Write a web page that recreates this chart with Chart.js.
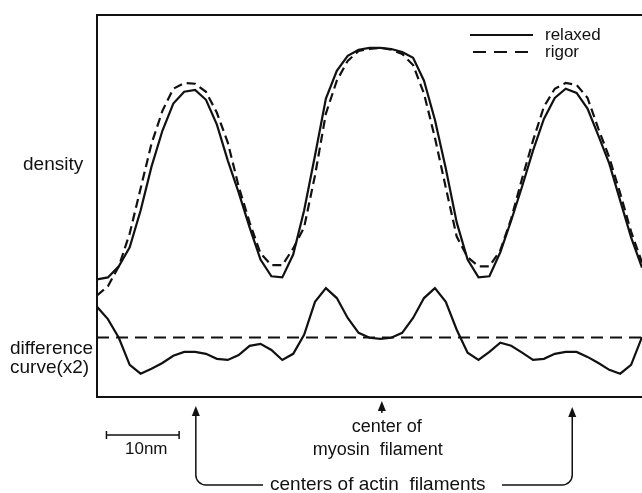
<!DOCTYPE html>
<html>
<head>
<meta charset="utf-8">
<script src="https://cdn.jsdelivr.net/npm/chart.js@4.4.1/dist/chart.umd.min.js"></script>
<style>
  html, body { margin: 0; padding: 0; background: #fff; overflow: hidden; }
  #wrap { width: 642px; height: 493px; }
</style>
</head>
<body>
<div id="wrap"><canvas id="profile" width="642" height="493"></canvas></div>
<script>
// Sample positions across the lattice (nm), one every 1.5 nm
const positionNm = [0, 1.5, 3, 4.5, 6, 7.5, 9, 10.5, 12, 13.5, 15, 16.5, 18, 19.5, 21, 22.5, 24, 25.5, 27, 28.5,
    30, 31.5, 33, 34.5, 36, 37.5, 39, 40.5, 42, 43.5, 45, 46.5, 48, 49.5, 51, 52.5, 54, 55.5, 57, 58.5,
    60, 61.5, 63, 64.5, 66, 67.5, 69, 70.5, 72, 73.5, 75];

// Density profiles (arbitrary units, 0-100)
const relaxed = [30.8, 31.3, 34.2, 39.2, 48.8, 60.3, 69.7, 76.8, 79.9, 80.4, 77.8, 71.3, 61.9, 53.5, 44.4, 36.0, 31.6,
    31.3, 37.3, 48.8, 63.2, 78.1, 85.4, 89.3, 90.9, 91.4, 91.4, 91.1, 90.3, 88.8, 82.8, 72.6, 59.8, 45.7, 36.0,
    31.3, 31.6, 37.9, 46.2, 55.1, 64.5, 72.8, 78.3, 80.7, 79.6, 75.5, 68.4, 61.1, 51.4, 41.8, 33.9];
const rigor = [26.6, 29.0, 34.2, 42.8, 54.6, 66.3, 74.9, 80.7, 82.2, 82.0, 79.9, 74.4, 66.6, 55.1, 45.7, 37.6, 34.5,
    34.5, 38.9, 44.4, 58.0, 74.2, 82.8, 88.0, 90.6, 91.1, 91.4, 90.9, 89.8, 86.9, 79.4, 67.9, 54.8, 42.0, 36.6,
    34.2, 34.2, 38.4, 46.7, 57.2, 67.1, 76.0, 80.7, 82.2, 81.7, 78.3, 70.2, 62.7, 53.3, 43.3, 35.2];

// Difference curve (x2), same units, around its own zero line
const difference = [8.0, 4.8, -0.1, -7.2, -9.5, -8.2, -6.7, -4.8, -3.8, -3.8, -4.3, -5.6, -5.9, -4.6, -2.2, -1.7, -3.3,
    -5.9, -4.3, 0.7, 9.3, 12.9, 10.3, 5.1, 1.2, -0.1, -0.4, -0.1, 1.2, 5.1, 10.3, 12.9, 9.3, 2.0, -4.0,
    -5.9, -3.8, -1.4, -2.2, -4.0, -5.9, -5.6, -4.3, -3.8, -3.8, -5.1, -6.7, -8.5, -9.5, -7.2, 0.1];

// Landmarks (nm)
const myosinCenterNm = 39.2;
const actinCentersNm = [13.6, 65.4];
const scaleBarNm = [1.3, 11.3];

const ink = '#111';
const font = '"Liberation Sans", Arial, sans-serif';

function toPoints(values) {
    return values.map((v, i) => ({ x: positionNm[i], y: v }));
}

function arrowHeadUp(ctx, x, y) {
    ctx.beginPath();
    ctx.moveTo(x, y);
    ctx.lineTo(x - 4, y + 10);
    ctx.lineTo(x + 4, y + 10);
    ctx.closePath();
    ctx.fill();
}

/* ------------------ FRAME, LABELS, ARROWS ------------------ */
const figureNotes = {
    id: 'figureNotes',
    afterDraw(chart) {
        const { ctx, chartArea: area, scales } = chart;
        const xs = scales.x;
        ctx.save();
        ctx.strokeStyle = ink;
        ctx.fillStyle = ink;

        // frame, right side runs off the page
        ctx.lineWidth = 2;
        ctx.beginPath();
        ctx.moveTo(area.right + 4, area.top);
        ctx.lineTo(area.left, area.top);
        ctx.lineTo(area.left, area.bottom);
        ctx.lineTo(area.right + 4, area.bottom);
        ctx.stroke();

        // left labels
        ctx.font = `19px ${font}`;
        ctx.textBaseline = 'middle';
        ctx.textAlign = 'left';
        ctx.fillText('density', 23, 165);
        ctx.fillText('difference', 10, 349);
        ctx.fillText('curve(x2)', 10, 368);

        // legend
        ctx.lineWidth = 2;
        ctx.beginPath();
        ctx.moveTo(470, 35);
        ctx.lineTo(533, 35);
        ctx.stroke();
        ctx.setLineDash([13, 8]);
        ctx.beginPath();
        ctx.moveTo(473, 52);
        ctx.lineTo(533, 52);
        ctx.stroke();
        ctx.setLineDash([]);
        ctx.font = `17px ${font}`;
        ctx.fillText('relaxed', 545, 35);
        ctx.fillText('rigor', 545, 52);

        // center of myosin filament
        const mx = xs.getPixelForValue(myosinCenterNm);
        ctx.lineWidth = 1.5;
        ctx.beginPath();
        ctx.moveTo(mx, 413);
        ctx.lineTo(mx, 405);
        ctx.stroke();
        arrowHeadUp(ctx, mx, 401);
        ctx.font = `18px ${font}`;
        ctx.textAlign = 'center';
        ctx.fillText('center of', mx + 5, 427);
        ctx.fillText('myosin  filament', mx - 4, 450);

        // scale bar
        const s0 = xs.getPixelForValue(scaleBarNm[0]);
        const s1 = xs.getPixelForValue(scaleBarNm[1]);
        ctx.beginPath();
        ctx.moveTo(s0, 435); ctx.lineTo(s1, 435);
        ctx.moveTo(s0, 431); ctx.lineTo(s0, 439);
        ctx.moveTo(s1, 431); ctx.lineTo(s1, 439);
        ctx.stroke();
        ctx.textAlign = 'left';
        ctx.font = `17px ${font}`;
        ctx.fillText('10nm', 125, 449);

        // centers of actin filaments
        const a0 = xs.getPixelForValue(actinCentersNm[0]);
        const a1 = xs.getPixelForValue(actinCentersNm[1]);
        ctx.beginPath();
        ctx.moveTo(263, 485);
        ctx.lineTo(a0 + 10, 485);
        ctx.arcTo(a0, 485, a0, 475, 10);
        ctx.lineTo(a0, 415);
        ctx.moveTo(502, 485);
        ctx.lineTo(a1 - 10, 485);
        ctx.arcTo(a1, 485, a1, 475, 10);
        ctx.lineTo(a1, 416);
        ctx.stroke();
        arrowHeadUp(ctx, a0, 406);
        arrowHeadUp(ctx, a1, 407);
        ctx.font = `19px ${font}`;
        ctx.fillText('centers of actin  filaments', 270, 485);

        ctx.restore();
    }
};

/* ------------------ CHART ------------------ */
Chart.defaults.font.family = font;

new Chart(document.getElementById('profile'), {
    type: 'line',
    data: {
        datasets: [
            {
                label: 'relaxed',
                data: toPoints(relaxed),
                borderColor: ink,
                borderWidth: 2.2,
                yAxisID: 'y'
            },
            {
                label: 'rigor',
                data: toPoints(rigor),
                borderColor: ink,
                borderWidth: 2.2,
                borderDash: [9, 5],
                yAxisID: 'y'
            },
            {
                label: 'difference',
                data: toPoints(difference),
                borderColor: ink,
                borderWidth: 2.2,
                yAxisID: 'yDiff'
            },
            {
                label: 'zero',
                data: [
                    { x: positionNm[0], y: 0 },
                    { x: positionNm[positionNm.length - 1], y: 0 }
                ],
                borderColor: ink,
                borderWidth: 2,
                borderDash: [12, 7],
                yAxisID: 'yDiff'
            }
        ]
    },
    options: {
        responsive: false,
        animation: false,
        layout: { padding: { left: 97, top: 15, right: 0, bottom: 96 } },
        elements: {
            point: { radius: 0 },
            line: { tension: 0, fill: false }
        },
        scales: {
            x: { type: 'linear', display: false, min: 0, max: 75 },
            y: { display: false, min: 0, max: 100 },
            yDiff: { display: false, min: -15.6, max: 84.4 }
        },
        plugins: {
            legend: { display: false },
            tooltip: { enabled: false }
        }
    },
    plugins: [figureNotes]
});
</script>
</body>
</html>
